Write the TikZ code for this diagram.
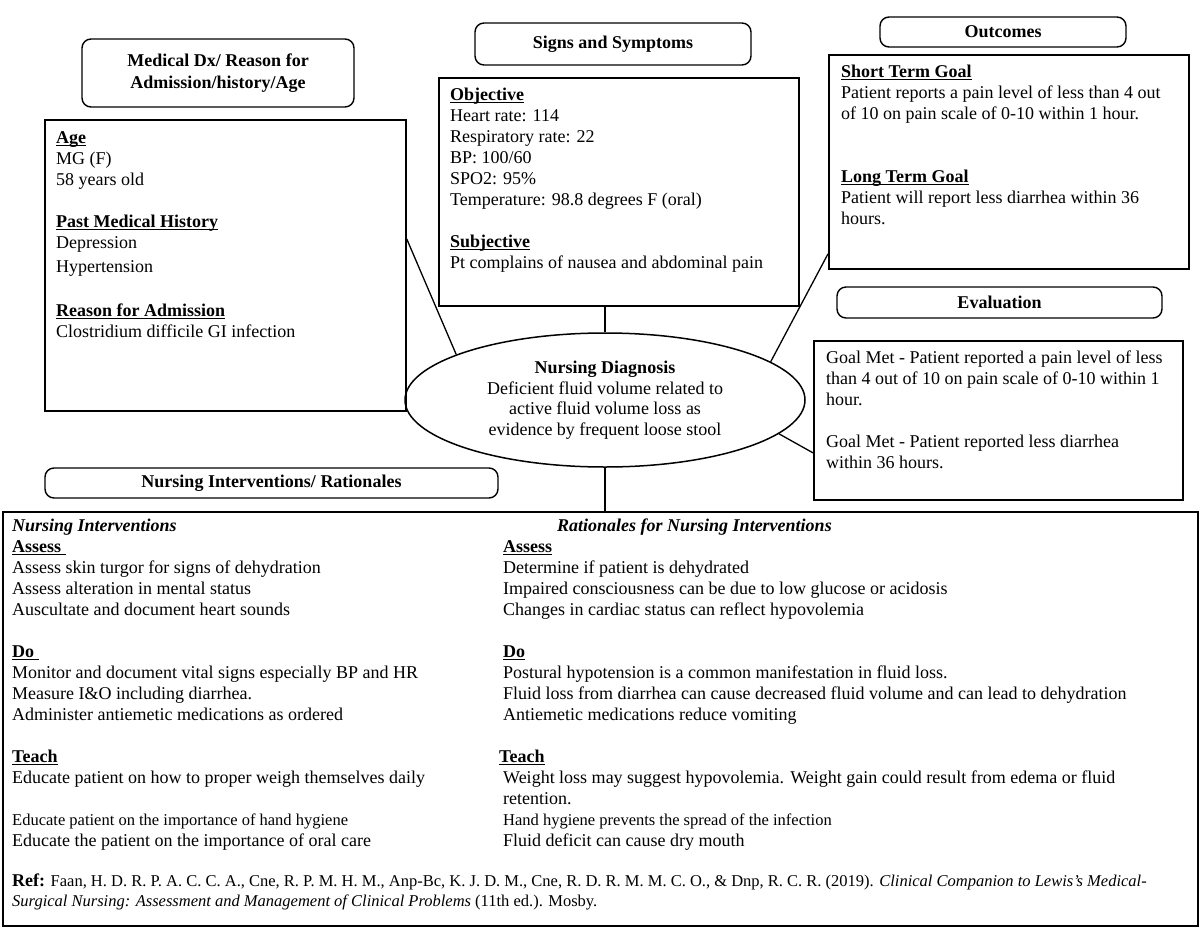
\documentclass[tikz,border=0pt]{standalone}
\usepackage{fontspec}
\setmainfont{Liberation Serif}
\usetikzlibrary{shapes.geometric}
\newcommand\myul[1]{\setbox0\hbox{#1}\rlap{\rule[-2.4pt]{\wd0}{1pt}}\box0}
\newcommand\fs[2]{\fontsize{#1}{#2}\selectfont}
\newcommand\firstl{\rule{0pt}{14pt}}
\begin{document}
\begin{tikzpicture}[x=1pt,y=-1pt,
  box/.style={draw, line width=1.7pt, inner sep=0, anchor=north west},
  hdr/.style={draw, line width=1.4pt, rounded corners=9pt, font=\bfseries\fs{18}{21.5}, align=center, inner sep=0},
  txt/.style={anchor=north west, align=left, inner sep=0, font=\fs{18}{21}},
  link/.style={line width=1.3pt}]
\useasboundingbox (0,0) rectangle (1200,927);
\fill[white] (0,0) rectangle (1200,927);

% headers
\node[hdr, minimum width=272, minimum height=68] (hmed) at (218,73) {Medical Dx/ Reason for\\Admission/history/Age};
\node[hdr, minimum width=276, minimum height=42] (hsig) at (613,44) {Signs and Symptoms};
\node[hdr, minimum width=246, minimum height=30] (hout) at (1003,32) {Outcomes};
\node[hdr, minimum width=325, minimum height=31] (heva) at (999.5,302.5) {Evaluation};
\node[hdr, minimum width=453, minimum height=30] (hint) at (271.5,483) {Nursing Interventions/ Rationales};

% boxes
\node[box, minimum width=361, minimum height=291] (agebox) at (44,119) {};
\node[box, minimum width=360, minimum height=228] (sigbox) at (438,77) {};
\node[box, minimum width=360, minimum height=214] (outbox) at (828,54) {};
\node[box, minimum width=369, minimum height=159] (evabox) at (813,340) {};
\node[box, minimum width=1195, minimum height=414] (big) at (2,511) {};

% diagnosis ellipse
\node[ellipse, draw, line width=1.5pt, minimum width=400, minimum height=134, inner sep=0,
      align=center, font=\fs{18}{20.5}] (diag) at (605,400)
  {\textbf{Nursing Diagnosis}\\Deficient fluid volume related to\\active fluid volume loss as\\evidence by frequent loose stool};

% texts
\node[txt] (agetxt) at (56,129) {\firstl\myul{\textbf{Age}}\\
MG (F)\\
58 years old\\[21pt]
\myul{\textbf{Past Medical History}}\\
Depression\\[3pt]
Hypertension\\[23pt]
\myul{\textbf{Reason for Admission}}\\
Clostridium difficile GI infection};

\node[txt] (sigtxt) at (450,86) {\firstl\myul{\textbf{Objective}}\\
Heart rate: 114\\
Respiratory rate: 22\\
BP: 100/60\\
SPO2: 95\%\\
Temperature: 98.8 degrees F (oral)\\[21pt]
\myul{\textbf{Subjective}}\\
Pt complains of nausea and abdominal pain};

\node[txt] (outtxt) at (841,63) {\firstl\myul{\textbf{Short Term Goal}}\\
Patient reports a pain level of less than 4 out\\
of 10 on pain scale of 0-10 within 1 hour.\\[42pt]
\myul{\textbf{Long Term Goal}}\\
Patient will report less diarrhea within 36\\
hours.};

\node[txt] (evatxt) at (826,349) {\firstl Goal Met - Patient reported a pain level of less\\
than 4 out of 10 on pain scale of 0-10 within 1\\
hour.\\[21pt]
Goal Met - Patient reported less diarrhea\\
within 36 hours.};

\node[txt] (inttxt) at (12,517) {\firstl\textbf{\textit{Nursing Interventions}}\\
\myul{\textbf{Assess\ }}\\
Assess skin turgor for signs of dehydration\\
Assess alteration in mental status\\
Auscultate and document heart sounds\\[21pt]
\myul{\textbf{Do\ }}\\
Monitor and document vital signs especially BP and HR\\
Measure I\&O including diarrhea.\\
Administer antiemetic medications as ordered\\[21pt]
\myul{\textbf{Teach}}\\
Educate patient on how to proper weigh themselves daily\\[21pt]
{\fs{16.5}{21}Educate patient on the importance of hand hygiene}\\
Educate the patient on the importance of oral care};

\node[txt] (rattitle) at (557,517) {\firstl\textbf{\textit{Rationales for Nursing Interventions}}};

\node[txt] (rattxt) at (503,538) {\firstl\myul{\textbf{Assess}}\\
Determine if patient is dehydrated\\
Impaired consciousness can be due to low glucose or acidosis\\
Changes in cardiac status can reflect hypovolemia\\[21pt]
\myul{\textbf{Do}}\\
Postural hypotension is a common manifestation in fluid loss.\\
Fluid loss from diarrhea can cause decreased fluid volume and can lead to dehydration\\
Antiemetic medications reduce vomiting\\[21pt]
\hspace*{-4pt}\myul{\textbf{Teach}}\\
Weight loss may suggest hypovolemia. Weight gain could result from edema or fluid\\
retention.\\
{\fs{16.5}{21}Hand hygiene prevents the spread of the infection}\\
Fluid deficit can cause dry mouth};

\node[txt, font=\fs{16.5}{20}] (ref) at (12,872) {\firstl{\fs{18}{20}\textbf{Ref:}} Faan, H. D. R. P. A. C. C. A., Cne, R. P. M. H. M., Anp-Bc, K. J. D. M., Cne, R. D. R. M. M. C. O., \& Dnp, R. C. R. (2019). \textit{Clinical Companion to Lewis’s Medical-}\\
\textit{Surgical Nursing: Assessment and Management of Clinical Problems} (11th ed.). Mosby.};

% connectors
\draw[link] ([yshift=26.5pt]agebox.east) -- (diag.163);
\draw[link] (diag.north) -- (diag.north |- sigbox.south);
\draw[link] ([yshift=-92pt]outbox.west) -- (diag.13);
\draw[link] (diag.-11) -- ([yshift=-32.5pt]evabox.west);
\draw[link] (diag.south) -- (diag.south |- big.north);
\end{tikzpicture}
\end{document}
